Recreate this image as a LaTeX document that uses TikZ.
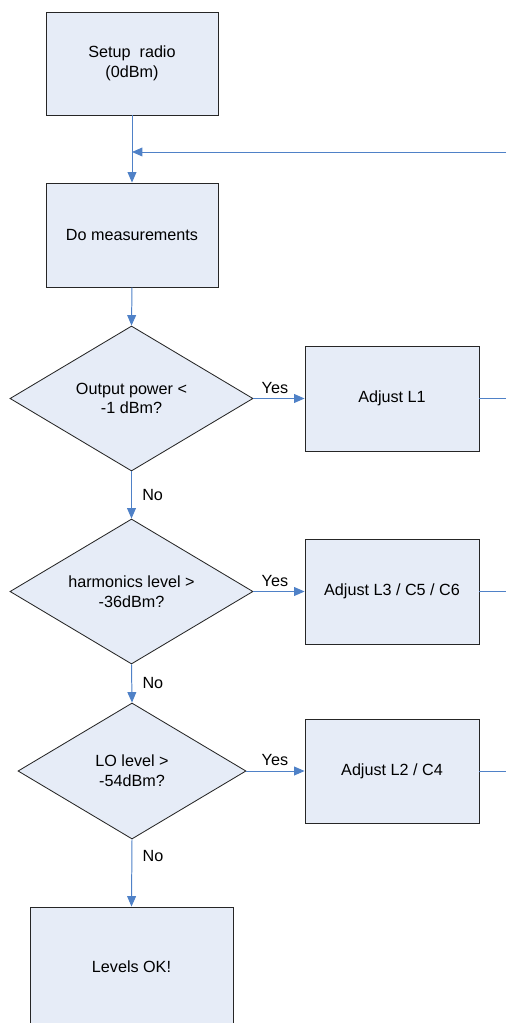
\documentclass[tikz,border=0pt]{standalone}
\usepackage{fontspec}
\setmainfont{Liberation Sans}
\usetikzlibrary{shapes.geometric,arrows.meta}

\definecolor{boxfill}{RGB}{230,236,247}
\definecolor{flowblue}{RGB}{79,129,199}

\tikzset{
    block/.style={draw=black!85, fill=boxfill, line width=0.6pt, align=center},
    decision/.style={diamond, aspect=1.67, draw=black!85, fill=boxfill, line width=0.6pt,
        align=center, inner sep=0pt},
    flow/.style={draw=flowblue, line width=0.7pt, -{Triangle[length=0.26cm,width=0.22cm]}},
    plainflow/.style={draw=flowblue, line width=0.7pt}
}

\begin{document}
\begin{tikzpicture}[x=0.025cm, y=-0.025cm, font=\fontsize{11.5}{14}\selectfont]
        \useasboundingbox (0,0) rectangle (506,1023);
        \clip (0,0) rectangle (506,1023);

        \node[block, minimum width=4.3cm, minimum height=2.575cm] (setup) at (132,63.5) {Setup\ \ radio\\(0dBm)};
        \node[block, minimum width=4.3cm, minimum height=2.6cm] (meas) at (132,235) {Do measurements};

        \node[decision, minimum width=6.075cm, minimum height=3.625cm] (q1) at (131.5,398.5) {Output power <\\-1 dBm?};
        \node[decision, minimum width=6.075cm, minimum height=3.625cm] (q2) at (131.5,591.5) {harmonics level >\\-36dBm?};
        \node[decision, minimum width=5.7cm, minimum height=3.4cm] (q3) at (132,771) {LO level >\\-54dBm?};

        \node[block, minimum width=4.35cm, minimum height=2.625cm] (adj1) at (392,398.5) {Adjust L1};
        \node[block, minimum width=4.35cm, minimum height=2.625cm] (adj2) at (392,591.5) {Adjust L3 / C5 / C6};
        \node[block, minimum width=4.35cm, minimum height=2.6cm] (adj3) at (392,771) {Adjust L2 / C4};

        \node[block, minimum width=5.075cm, minimum height=3cm] (ok) at (131.5,967) {Levels OK!};

        \coordinate (fb) at (506,152);

        % main chain
        \draw[flow] (setup.south) -- (meas.north);
        \draw[flow] (fb) -- (fb -| setup.south);
        \draw[flow] (meas.south) -- (q1.north);
        \draw[flow] (q1.south) -- node[right=4pt] {No} (q2.north);
        \draw[flow] (q2.south) -- node[right=4pt] {No} (q3.north);
        \draw[flow] (q3.south) -- node[right=4pt, pos=0.25] {No} (ok.north);

        % yes branches
        \draw[flow] (q1.east) -- node[above, pos=0.42] {Yes} (adj1.west);
        \draw[flow] (q2.east) -- node[above, pos=0.42] {Yes} (adj2.west);
        \draw[flow] (q3.east) -- node[above, pos=0.49] {Yes} (adj3.west);

        \foreach \i in {1,2,3}
            \draw[plainflow] (adj\i.east) -- (adj\i.east -| fb);
    \end{tikzpicture}
\end{document}
